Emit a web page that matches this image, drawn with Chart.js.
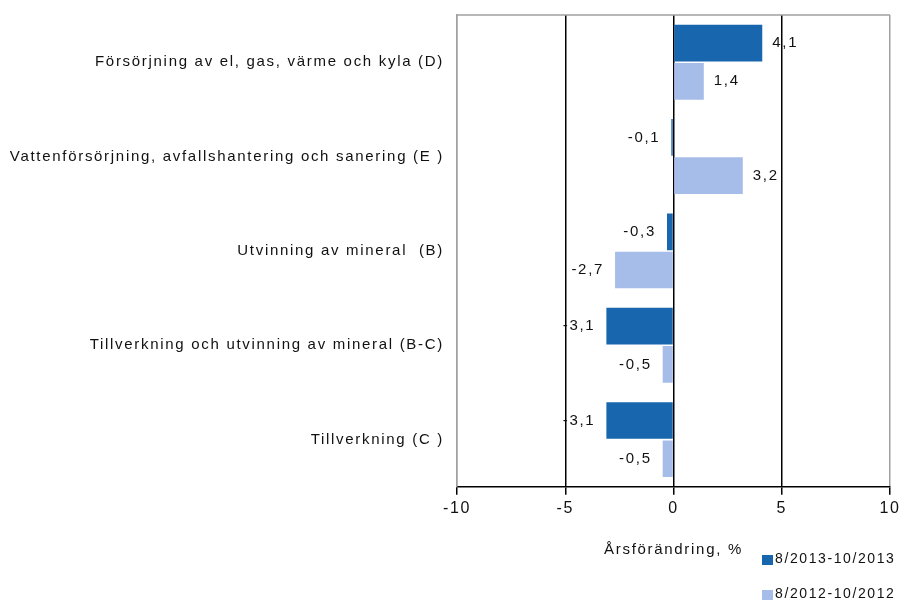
<!DOCTYPE html>
<html>
<head>
<meta charset="utf-8">
<script src="https://cdn.jsdelivr.net/npm/chart.js@4/dist/chart.umd.min.js"></script>
<style>
  html, body { margin: 0; padding: 0; background: #fff; }
  #wrap { width: 902px; height: 601px; position: relative; }
</style>
</head>
<body>
<div id="wrap"><canvas id="chart"></canvas></div>
<script>
const categories = [
    'Försörjning av el, gas, värme och kyla (D)',
    'Vattenförsörjning, avfallshantering och sanering (E )',
    'Utvinning av mineral  (B)',
    'Tillverkning och utvinning av mineral (B-C)',
    'Tillverkning (C )'
];
const seriesLabels = ['8/2013-10/2013', '8/2012-10/2012'];
const values2013 = [4.1, -0.1, -0.3, -3.1, -3.1];
const values2012 = [1.4, 3.2, -2.7, -0.5, -0.5];
const xTicks = [-10, -5, 0, 5, 10];
const axisTitle = 'Årsförändring, %';

const DARK = '#1866ad';
const LIGHT = '#a7bde9';
const FONT = '"Liberation Sans", Arial, sans-serif';
const SPACING = '1.7px';

function fmt(v) {
    return v.toFixed(1).replace('.', ',');
}

// the original text is set wide, so space the letters a bit
const wideText = {
    id: 'wideText',
    beforeUpdate(chart) { chart.ctx.letterSpacing = SPACING; },
    beforeDraw(chart) { chart.ctx.letterSpacing = SPACING; }
};

// value labels next to the bar ends
const valueLabels = {
    id: 'valueLabels',
    afterDatasetsDraw(chart) {
        const ctx = chart.ctx;
        ctx.save();
        ctx.letterSpacing = SPACING;
        ctx.font = '15px ' + FONT;
        ctx.fillStyle = '#111';
        ctx.textBaseline = 'middle';
        chart.data.datasets.forEach((ds, i) => {
            chart.getDatasetMeta(i).data.forEach((bar, j) => {
                const v = ds.data[j];
                if (v >= 0) {
                    ctx.textAlign = 'left';
                    ctx.fillText(fmt(v), bar.x + 10, bar.y);
                } else {
                    ctx.textAlign = 'right';
                    ctx.fillText(fmt(v), bar.x - 11, bar.y);
                }
            });
        });
        ctx.restore();
    }
};

// gray frame on top of the plot, stacked legend bottom right
const frameAndLegend = {
    id: 'frameAndLegend',
    afterDraw(chart) {
        const ctx = chart.ctx;
        const a = chart.chartArea;
        ctx.save();
        ctx.strokeStyle = '#a0a0a0';
        ctx.lineWidth = 1.5;
        ctx.beginPath();
        ctx.moveTo(a.left, a.top);
        ctx.lineTo(a.right, a.top);
        ctx.stroke();

        ctx.letterSpacing = '1.6px';
        ctx.font = '14px ' + FONT;
        ctx.textBaseline = 'middle';
        ctx.textAlign = 'left';
        const x = a.right - 128;
        chart.data.datasets.forEach((ds, i) => {
            const y = chart.height - 42 + i * 35;
            ctx.fillStyle = ds.backgroundColor;
            ctx.fillRect(x, y - 4, 11, 10);
            ctx.fillStyle = '#111';
            ctx.fillText(ds.label, x + 13, y);
        });
        ctx.restore();
    }
};

function gridColor(ctx) {
    const v = ctx.tick ? ctx.tick.value : 0;
    return Math.abs(v) === 10 ? '#a0a0a0' : '#000';
}

new Chart(document.getElementById('chart'), {
    type: 'bar',
    data: {
        labels: categories,
        datasets: [
            { label: seriesLabels[0], data: values2013, backgroundColor: DARK },
            { label: seriesLabels[1], data: values2012, backgroundColor: LIGHT }
        ]
    },
    options: {
        indexAxis: 'y',
        responsive: true,
        maintainAspectRatio: false,
        animation: false,
        categoryPercentage: 0.81,
        barPercentage: 0.96,
        layout: { padding: { top: 15, right: 12, bottom: 42, left: 0 } },
        plugins: {
            legend: { display: false },
            tooltip: { enabled: false }
        },
        scales: {
            x: {
                min: -10,
                max: 10,
                afterBuildTicks: scale => { scale.ticks = xTicks.map(v => ({ value: v })); },
                afterFit: scale => { scale.paddingLeft = 0; scale.paddingRight = 0; },
                grid: {
                    color: gridColor,
                    lineWidth: 1.5,
                    tickColor: '#000',
                    tickLength: 8
                },
                border: { color: '#000', width: 1.5 },
                ticks: {
                    padding: 4,
                    color: '#111',
                    font: { family: FONT, size: 16 }
                },
                title: {
                    display: true,
                    text: axisTitle,
                    color: '#111',
                    font: { family: FONT, size: 15 },
                    padding: { top: 19, bottom: 0 }
                }
            },
            y: {
                grid: { display: false, drawTicks: false },
                border: { color: '#a0a0a0', width: 1.5 },
                afterFit: scale => {
                    scale.width = 457;
                    scale.paddingTop = 0;
                    scale.paddingBottom = 0;
                },
                ticks: {
                    padding: 13,
                    color: '#111',
                    font: { family: FONT, size: 15 }
                }
            }
        }
    },
    plugins: [wideText, valueLabels, frameAndLegend]
});
</script>
</body>
</html>
